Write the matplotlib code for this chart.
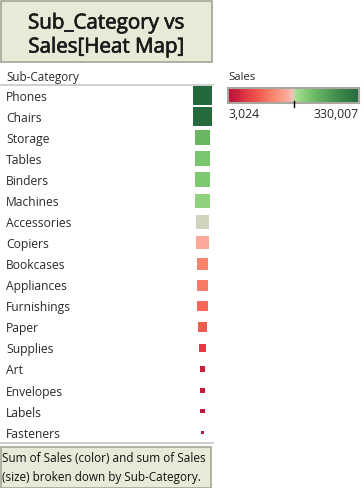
import numpy as np
import matplotlib
matplotlib.use("Agg")
import matplotlib.pyplot as plt
import matplotlib.patheffects as pe
from matplotlib.colors import LinearSegmentedColormap, Normalize
from matplotlib.patches import Rectangle
from matplotlib.lines import Line2D

categories = ["Phones", "Chairs", "Storage", "Tables", "Binders", "Machines",
              "Accessories", "Copiers", "Bookcases", "Appliances", "Furnishings",
              "Paper", "Supplies", "Art", "Envelopes", "Labels", "Fasteners"]
sales = [330007, 328449, 223844, 206966, 203413, 189239,
         167380, 149528, 114880, 107532, 91705,
         78479, 46674, 27119, 16476, 12486, 3024]
legend_labels = ["3,024", "330,007"]

W, H, DPI = 364, 488, 100
FONT = ["Open Sans", "DejaVu Sans"]
TXT = "#2a2a2a"

fig = plt.figure(figsize=(W / DPI, H / DPI), dpi=DPI)
fig.patch.set_facecolor("white")


def fx(x):
    return x / W


def fy(y):
    return 1 - y / H


def add_axes_px(x0, y0, x1, y1):
    return fig.add_axes([fx(x0), fy(y1), (x1 - x0) / W, (y1 - y0) / H])


nodes = [(0.0, "#b8153b"), (0.07, "#cb2240"), (0.13, "#e03846"), (0.23, "#f05a4f"),
         (0.27, "#f5685a"), (0.34, "#f8846c"), (0.45, "#fca99a"), (0.49, "#f5c0b2"),
         (0.503, "#cbd6bf"), (0.52, "#a8dc92"), (0.57, "#8fd17f"), (0.62, "#7bc670"),
         (0.675, "#6ab562"), (0.85, "#3f8a4d"), (1.0, "#24693d")]
cmap = LinearSegmentedColormap.from_list("rg", nodes)
vmin, vmax = min(sales), max(sales)
norm = Normalize(vmin=vmin, vmax=vmax)

thick = [pe.withStroke(linewidth=0.5, foreground="#1a1a1a")]

# Title box
fig.patches.append(Rectangle((fx(0.5), fy(62)), fx(211.5), 61.5 / H, transform=fig.transFigure,
                             facecolor="#e6ebd8", edgecolor="#a3a394", linewidth=1.2))
fig.text(fx(106), fy(23), "Sub_Category vs", ha="center", va="center",
         fontsize=14.8, color="#1a1a1a", family=FONT, path_effects=thick)
fig.text(fx(106), fy(47), "Sales[Heat Map]", ha="center", va="center",
         fontsize=14.8, color="#1a1a1a", family=FONT, path_effects=thick)

# Header
fig.text(fx(6), fy(77), "Sub-Category", ha="left", va="center", fontsize=8.4,
         color=TXT, family=FONT)
fig.add_artist(Line2D([fx(0), fx(213)], [fy(85), fy(85)], transform=fig.transFigure,
                      color="#cccccc", linewidth=1.3))
fig.add_artist(Line2D([fx(0), fx(213)], [fy(443), fy(443)], transform=fig.transFigure,
                      color="#cccccc", linewidth=1.3))

# Main axes
ax = add_axes_px(0, 85, 213, 443)
ax.set_xlim(0, 213)
ax.set_ylim(len(categories) - 0.5, -0.5)
ax.axis("off")
y = np.arange(len(categories))
s_arr = np.array(sales, dtype=float)
side_px = 18.3 * np.sqrt(s_arr / vmax) + 0.6
side_pt = side_px * 72 / DPI
ax.scatter(np.full(len(categories), 202.5), y, s=side_pt ** 2, marker="s",
           c=s_arr, cmap=cmap, norm=norm, linewidths=0)
for i, cat in enumerate(categories):
    ax.text(6, i + 0.08, cat, ha="left", va="center", fontsize=8.7, color=TXT, family=FONT)

# Legend
fig.text(fx(228), fy(77), "Sales", ha="left", va="center", fontsize=8.2,
         color=TXT, family=FONT)
cax = add_axes_px(228, 88, 359, 103)
grad = np.linspace(vmin, vmax, 256).reshape(1, -1)
cax.imshow(grad, aspect="auto", cmap=cmap, norm=norm, extent=[vmin, vmax, 0, 1])
cax.set_xticks([])
cax.set_yticks([])
for sp in cax.spines.values():
    sp.set_color("#a8a8a0")
    sp.set_linewidth(1.5)
fig.add_artist(Line2D([fx(293.5), fx(293.5)], [fy(101), fy(107)], transform=fig.transFigure,
                      color="black", linewidth=1))
fig.text(fx(228), fy(114), legend_labels[0], ha="left", va="center", fontsize=8.8,
         color=TXT, family=FONT)
fig.text(fx(359), fy(114), legend_labels[1], ha="right", va="center", fontsize=8.8,
         color=TXT, family=FONT)

# Caption box
fig.patches.append(Rectangle((fx(0.5), fy(487.5)), fx(210.5), 40.5 / H, transform=fig.transFigure,
                             facecolor="#e6ebd8", edgecolor="#a3a394", linewidth=1.2))
fig.text(fx(2), fy(459), "Sum of Sales (color) and sum of Sales", ha="left", va="center",
         fontsize=8.5, color="#111111", family=FONT)
fig.text(fx(2), fy(477.5), "(size) broken down by Sub-Category.", ha="left", va="center",
         fontsize=8.5, color="#111111", family=FONT)

fig.savefig("out.png", dpi=DPI, facecolor="white")
